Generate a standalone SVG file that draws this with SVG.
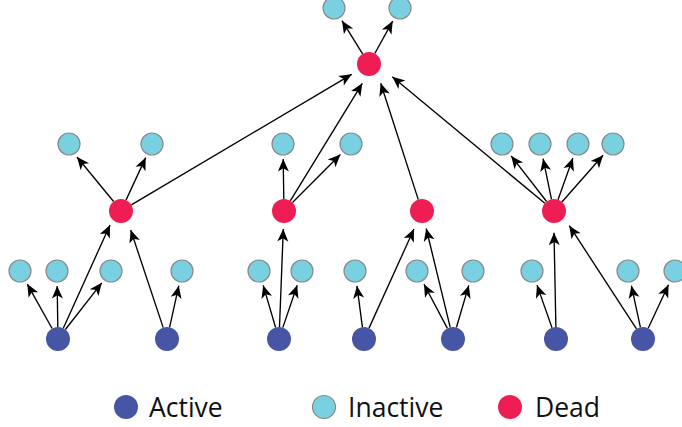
<svg xmlns="http://www.w3.org/2000/svg" width="682" height="427" viewBox="0 0 682 427">
<style>
.a{fill:#4656A5}
.i{fill:#78D0E0;stroke:#8A8A8A;stroke-width:1.2}
.d{fill:#EE1E55}
#edges line{stroke:#000;stroke-width:1.35;marker-end:url(#ah)}
text{font-family:"Open Sans","Liberation Sans",sans-serif;font-size:26.5px;fill:#111}
</style>
<defs>
<marker id="ah" markerUnits="userSpaceOnUse" markerWidth="15" markerHeight="13" viewBox="-13 -6.5 15 13" refX="0" refY="0" orient="auto">
<path d="M0,0 L-12.5,-5.5 L-9.2,0 L-12.5,5.5 Z" fill="#000"/>
</marker>
</defs>
<rect width="682" height="427" fill="#fff"/>
<g id="edges">
<line x1="362.6" y1="53.8" x2="342" y2="20.7"/>
<line x1="374.8" y1="53.5" x2="392.7" y2="21.1"/>
<line x1="131.3" y1="204.9" x2="351.7" y2="74.3"/>
<line x1="290.3" y1="200.8" x2="362.3" y2="83.3"/>
<line x1="418.3" y1="199.6" x2="380.7" y2="83.3"/>
<line x1="544.8" y1="203.3" x2="392.3" y2="76.7"/>
<line x1="113.6" y1="201.5" x2="77" y2="157"/>
<line x1="126" y1="200.1" x2="145.7" y2="157.6"/>
<line x1="283.8" y1="199" x2="283.2" y2="159"/>
<line x1="292.5" y1="202.5" x2="340.4" y2="154.6"/>
<line x1="546.6" y1="201.5" x2="511.2" y2="155.9"/>
<line x1="551.5" y1="199.3" x2="543.1" y2="158.7"/>
<line x1="558" y1="199.7" x2="572.9" y2="158.1"/>
<line x1="561.9" y1="202" x2="603.1" y2="155.3"/>
<line x1="52.1" y1="328.5" x2="27.3" y2="284.1"/>
<line x1="57.8" y1="327" x2="57.2" y2="286"/>
<line x1="65.4" y1="329.5" x2="101.8" y2="282.8"/>
<line x1="63.3" y1="328.2" x2="110" y2="225"/>
<line x1="163.2" y1="327.6" x2="130.7" y2="230"/>
<line x1="169.6" y1="327.3" x2="178.8" y2="285.7"/>
<line x1="275.6" y1="327.5" x2="263.2" y2="285.4"/>
<line x1="279.5" y1="327" x2="283.3" y2="229"/>
<line x1="282.8" y1="327.6" x2="297.2" y2="285.2"/>
<line x1="362.4" y1="327.1" x2="357" y2="285.9"/>
<line x1="369" y1="328.1" x2="414" y2="229"/>
<line x1="447.4" y1="328.4" x2="424" y2="284.3"/>
<line x1="450.2" y1="327.3" x2="426.2" y2="228.5"/>
<line x1="456.4" y1="327.5" x2="468.8" y2="285.4"/>
<line x1="552" y1="327.7" x2="537" y2="285.1"/>
<line x1="555.9" y1="327" x2="554" y2="232.7"/>
<line x1="636.5" y1="328.9" x2="569.3" y2="225.7"/>
<line x1="640.4" y1="327.3" x2="631.4" y2="285.7"/>
<line x1="648.2" y1="328.2" x2="668.5" y2="284.8"/>
</g>
<g id="t0"><circle class="d" cx="369" cy="64" r="12"/></g>
<g id="t1"><circle class="i" cx="334" cy="8" r="11"/></g>
<g id="t2"><circle class="i" cx="400" cy="8" r="11"/></g>
<g id="r1"><circle class="d" cx="121" cy="211" r="12"/></g>
<g id="r2"><circle class="d" cx="284" cy="211" r="12"/></g>
<g id="r3"><circle class="d" cx="422" cy="211" r="12"/></g>
<g id="r4"><circle class="d" cx="554" cy="211" r="12"/></g>
<g id="m1"><circle class="i" cx="69" cy="144" r="11"/></g>
<g id="m2"><circle class="i" cx="152" cy="144" r="11"/></g>
<g id="m3"><circle class="i" cx="283" cy="144" r="11"/></g>
<g id="m4"><circle class="i" cx="351" cy="144" r="11"/></g>
<g id="m5"><circle class="i" cx="502" cy="144" r="11"/></g>
<g id="m6"><circle class="i" cx="540" cy="144" r="11"/></g>
<g id="m7"><circle class="i" cx="578" cy="144" r="11"/></g>
<g id="m8"><circle class="i" cx="613" cy="144" r="11"/></g>
<g id="l1"><circle class="i" cx="20" cy="271" r="11"/></g>
<g id="l2"><circle class="i" cx="57" cy="271" r="11"/></g>
<g id="l3"><circle class="i" cx="111" cy="271" r="11"/></g>
<g id="l4"><circle class="i" cx="182" cy="271" r="11"/></g>
<g id="l5"><circle class="i" cx="259" cy="271" r="11"/></g>
<g id="l6"><circle class="i" cx="302" cy="271" r="11"/></g>
<g id="l7"><circle class="i" cx="355" cy="271" r="11"/></g>
<g id="l8"><circle class="i" cx="417" cy="271" r="11"/></g>
<g id="l9"><circle class="i" cx="473" cy="271" r="11"/></g>
<g id="l10"><circle class="i" cx="532" cy="271" r="11"/></g>
<g id="l11"><circle class="i" cx="628" cy="271" r="11"/></g>
<g id="l12"><circle class="i" cx="675" cy="271" r="11"/></g>
<g id="b1"><circle class="a" cx="58" cy="339" r="12"/></g>
<g id="b2"><circle class="a" cx="167" cy="339" r="12"/></g>
<g id="b3"><circle class="a" cx="279" cy="339" r="12"/></g>
<g id="b4"><circle class="a" cx="364" cy="339" r="12"/></g>
<g id="b5"><circle class="a" cx="453" cy="339" r="12"/></g>
<g id="b6"><circle class="a" cx="556" cy="339" r="12"/></g>
<g id="b7"><circle class="a" cx="643" cy="339" r="12"/></g>
<g id="legend">
<circle class="a" cx="126" cy="407" r="12"/>
<text x="149" y="417">Active</text>
<circle class="i" cx="324" cy="407" r="11.5"/>
<text x="348" y="417">Inactive</text>
<circle class="d" cx="510" cy="407" r="12"/>
<text x="535" y="417">Dead</text>
</g>
</svg>
